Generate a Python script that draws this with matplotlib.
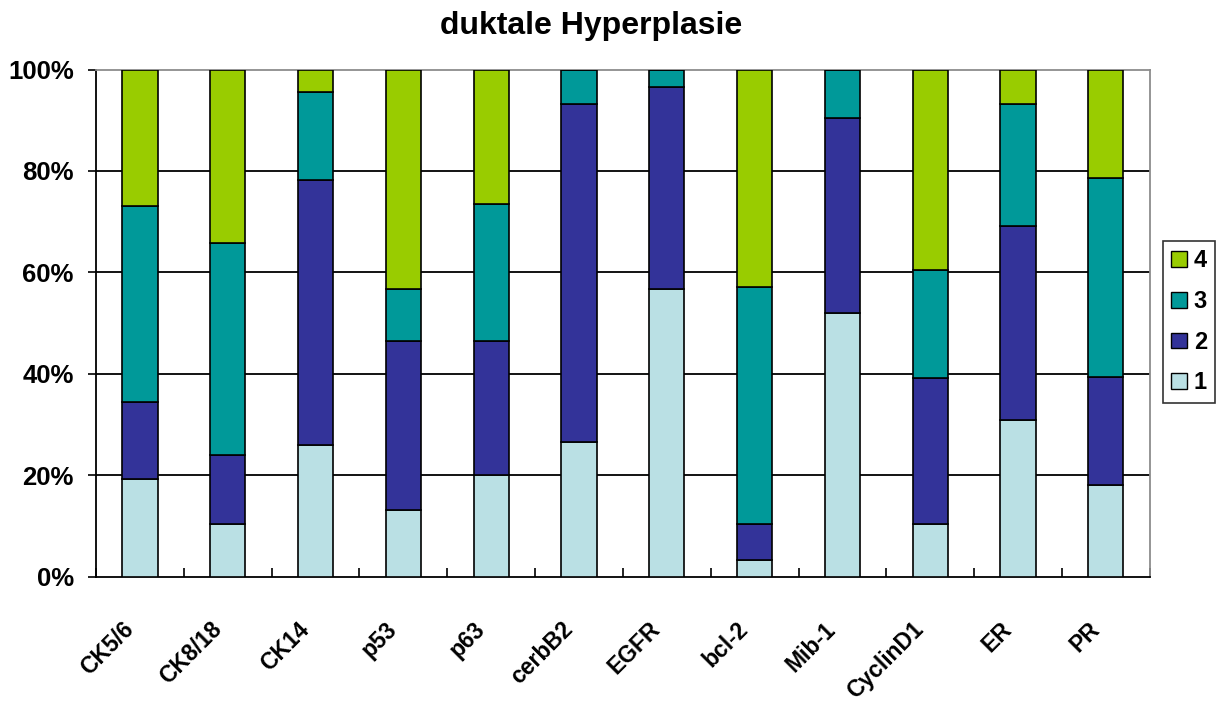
import matplotlib
matplotlib.use("Agg")
import matplotlib.pyplot as plt
import matplotlib.transforms as mtransforms
from matplotlib.patches import Patch
import numpy as np

plt.rcParams['font.family'] = ['Liberation Sans', 'DejaVu Sans']

# marker panel, share of cases per score (percent)
markers = ['CK5/6', 'CK8/18', 'CK14', 'p53', 'p63', 'cerbB2',
           'EGFR', 'bcl-2', 'Mib-1', 'CyclinD1', 'ER', 'PR']
score_1 = [19.2, 10.5, 26.0, 13.1, 20.0, 26.5, 56.8, 3.4, 52.0, 10.5, 30.9, 18.0]
score_2 = [15.3, 13.5, 52.3, 33.4, 26.5, 66.7, 39.8, 7.1, 38.5, 28.7, 38.2, 21.4]
score_3 = [38.6, 41.8, 17.3, 10.2, 27.0, 6.8, 3.4, 46.6, 9.5, 21.3, 24.1, 39.2]
score_4 = [26.9, 34.2, 4.4, 43.3, 26.5, 0.0, 0.0, 42.9, 0.0, 39.5, 6.8, 21.4]
score_labels = ['1', '2', '3', '4']
score_colors = ['#BAE0E4', '#333399', '#009999', '#99CC00']

fig = plt.figure(figsize=(12.16, 7.06), dpi=100)
ax = fig.add_axes([0.079, 0.183, 0.8665, 0.7185])

x = np.arange(len(markers))
bottom = np.zeros(len(markers))
for vals, col in zip([score_1, score_2, score_3, score_4], score_colors):
    vals = np.array(vals)
    ax.bar(x, vals, width=0.4, bottom=bottom, color=col,
           edgecolor='black', linewidth=1.2, zorder=3)
    bottom += vals

ax.set_xlim(-0.5, len(markers) - 0.5)
ax.set_ylim(0, 100)
ax.set_yticks(np.arange(0, 101, 20))
ax.set_yticklabels([f'{v}%' for v in range(0, 101, 20)],
                   fontsize=18.5, fontweight='bold')
for v in range(20, 100, 20):
    ax.axhline(v, color='black', linewidth=1.3, zorder=1)

# category labels at bar centres, tick marks at boundaries
ax.set_xticks(x)
ax.set_xticklabels(markers, rotation=45, ha='right', va='top',
                   rotation_mode='anchor', fontsize=16.5, fontweight='bold')
ax.set_xticks(np.arange(-0.5, len(markers)), minor=True)
ax.tick_params(axis='x', which='major', length=0, pad=0)
ax.tick_params(axis='x', which='minor', direction='in', length=6.5, width=1.2)
ax.tick_params(axis='y', direction='out', length=6, width=1.2, pad=10)
shift = mtransforms.ScaledTranslation(-0.18, -0.41, fig.dpi_scale_trans)
for lab in ax.get_xticklabels():
    lab.set_transform(lab.get_transform() + shift)

for side in ['left', 'bottom']:
    ax.spines[side].set_color('black')
    ax.spines[side].set_linewidth(1.3)
for side in ['top', 'right']:
    ax.spines[side].set_color('#8c8c8c')
    ax.spines[side].set_linewidth(1.3)

handles = [Patch(facecolor=c, edgecolor='black', linewidth=1.0) for c in score_colors]
leg = fig.legend(handles[::-1], score_labels[::-1],
                 loc='upper left', bbox_to_anchor=(1163 / 1216, 1 - 241 / 706),
                 prop={'size': 17, 'weight': 'bold'}, frameon=True, fancybox=False,
                 edgecolor='black', handlelength=0.65, handleheight=0.65,
                 handletextpad=0.3, labelspacing=0.75, borderpad=0.35,
                 borderaxespad=0)
leg.get_frame().set_linewidth(1.2)

fig.suptitle('duktale Hyperplasie', x=0.486, y=0.985, fontsize=23,
             fontweight='bold')

fig.savefig('out.png', dpi=100)
